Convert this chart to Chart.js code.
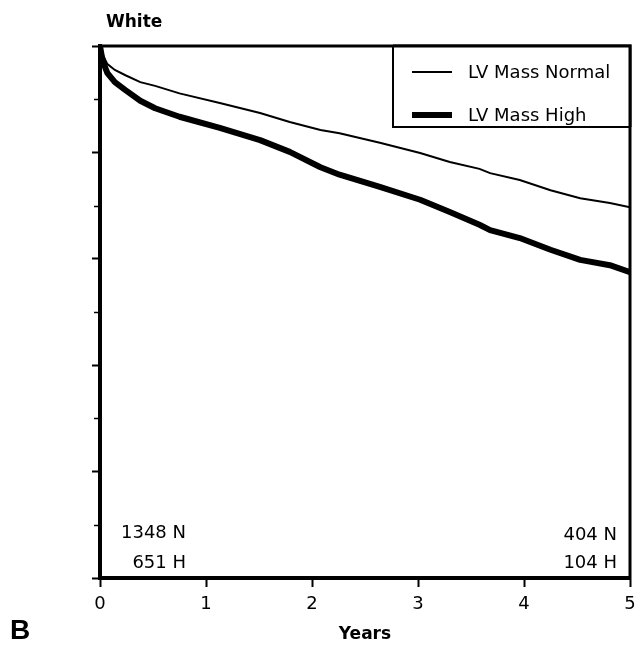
<!DOCTYPE html>
<html>
<head>
<meta charset="utf-8">
<script src="https://cdn.jsdelivr.net/npm/chart.js@4.4.1/dist/chart.umd.min.js"></script>
<style>
  html, body { margin: 0; padding: 0; background: #fff; }
  #wrap { width: 635px; height: 645px; position: relative; }
</style>
</head>
<body>
<div id="wrap"><canvas id="c" width="635" height="645"></canvas></div>
<script>
// ---- data ----
const timeYears = [0, 0.02, 0.05, 0.07, 0.14, 0.24, 0.38, 0.52, 0.75, 1.13, 1.51, 1.79, 2.08, 2.26, 2.64, 3.02, 3.30, 3.58, 3.68, 3.96, 4.25, 4.53, 4.81, 5.0];
const survNormal = [1.000, 0.987, 0.974, 0.966, 0.955, 0.945, 0.932, 0.925, 0.911, 0.893, 0.874, 0.857, 0.842, 0.836, 0.818, 0.799, 0.782, 0.769, 0.761, 0.748, 0.729, 0.714, 0.705, 0.697];
const survHigh   = [1.000, 0.977, 0.959, 0.949, 0.932, 0.917, 0.897, 0.883, 0.867, 0.846, 0.823, 0.801, 0.772, 0.758, 0.735, 0.711, 0.688, 0.664, 0.654, 0.639, 0.617, 0.598, 0.588, 0.575];
const seriesNames = ['LV Mass Normal', 'LV Mass High'];
const xTicks = [0, 1, 2, 3, 4, 5];
const yMajorTicks = [0, 0.2, 0.4, 0.6, 0.8, 1.0];
const yMinorTicks = [0.1, 0.3, 0.5, 0.7, 0.9];
const atRiskStart = ['1348 N', '651 H'];
const atRiskEnd = ['404 N', '104 H'];
const panelTitle = 'White';
const panelLetter = 'B';
const xTitle = 'Years';

const FONT = '"DejaVu Sans", sans-serif';

const toPoints = (ys) => timeYears.map((t, i) => ({x: t, y: ys[i]}));

const decor = {
  id: 'decor',
  afterDraw(chart) {
    const ctx = chart.ctx;
    const a = chart.chartArea;
    const ys = chart.scales.y;
    ctx.save();
    // frame top & right
    ctx.strokeStyle = '#000';
    ctx.lineWidth = 3;
    ctx.beginPath();
    ctx.moveTo(a.left - 2, a.top);
    ctx.lineTo(a.right, a.top);
    ctx.lineTo(a.right, a.bottom + 2);
    ctx.stroke();
    // minor y ticks
    ctx.lineWidth = 1.5;
    yMinorTicks.forEach(v => {
      const py = Math.round(ys.getPixelForValue(v)) + 0.5;
      ctx.beginPath();
      ctx.moveTo(a.left - 6, py);
      ctx.lineTo(a.left, py);
      ctx.stroke();
    });
    // legend box
    const bx = a.right - 237, by = a.top, bw = 237, bh = 81;
    ctx.fillStyle = '#fff';
    ctx.fillRect(bx, by, bw, bh);
    ctx.lineWidth = 2;
    ctx.strokeRect(bx, by, bw, bh);
    ctx.lineWidth = 3;
    ctx.beginPath(); ctx.moveTo(bx, by); ctx.lineTo(a.right, by); ctx.lineTo(a.right, by + bh); ctx.stroke();
    const rows = [by + 26, by + 69];
    chart.data.datasets.forEach((ds, i) => {
      ctx.lineWidth = ds.borderWidth;
      ctx.lineCap = 'butt';
      ctx.beginPath();
      ctx.moveTo(bx + 19, rows[i]);
      ctx.lineTo(bx + 59, rows[i]);
      ctx.stroke();
      ctx.fillStyle = '#000';
      ctx.font = '18px ' + FONT;
      ctx.textAlign = 'left';
      ctx.textBaseline = 'middle';
      ctx.fillText(ds.label, bx + 75, rows[i] + 1);
    });
    // at-risk numbers
    ctx.font = '18px ' + FONT;
    ctx.textAlign = 'right';
    ctx.textBaseline = 'middle';
    ctx.fillText(atRiskStart[0], a.left + 86, a.bottom - 45);
    ctx.fillText(atRiskStart[1], a.left + 86, a.bottom - 15);
    ctx.fillText(atRiskEnd[0], a.right - 13, a.bottom - 43);
    ctx.fillText(atRiskEnd[1], a.right - 13, a.bottom - 15);
    // panel title & letter
    ctx.textAlign = 'left';
    ctx.font = 'bold 17px ' + FONT;
    ctx.fillText(panelTitle, a.left + 6, 23);
    ctx.font = 'bold 28px "Liberation Sans", Arial, sans-serif';
    ctx.fillText(panelLetter, 10, 631);
    ctx.restore();
  }
};

new Chart(document.getElementById('c'), {
  type: 'line',
  data: {
    datasets: [
      { label: seriesNames[0], data: toPoints(survNormal), borderColor: '#000', borderWidth: 2, pointRadius: 0, tension: 0, fill: false },
      { label: seriesNames[1], data: toPoints(survHigh), borderColor: '#000', borderWidth: 6, pointRadius: 0, tension: 0, fill: false, borderJoinStyle: 'round' }
    ]
  },
  options: {
    responsive: false,
    animation: false,
    layout: { padding: { top: 46, right: 5, left: 0, bottom: 0 } },
    plugins: { legend: { display: false }, tooltip: { enabled: false }, title: { display: false } },
    scales: {
      x: {
        type: 'linear', min: 0, max: 5,
        afterBuildTicks: (s) => { s.ticks = xTicks.map(v => ({value: v})); },
        afterFit: (s) => { s.height = 67; s.paddingLeft = 0; s.paddingRight = 0; },
        ticks: { color: '#000', font: { family: FONT, size: 18 }, padding: 7, maxRotation: 0, autoSkip: false, callback: (v) => String(v) },
        grid: { drawOnChartArea: false, drawTicks: true, tickLength: 9, tickWidth: 2, tickColor: '#000' },
        border: { display: true, color: '#000', width: 4 },
        title: { display: true, text: xTitle, color: '#000', font: { family: FONT, size: 17, weight: 'bold' }, padding: { top: 0, bottom: 0 } }
      },
      y: {
        type: 'linear', min: 0, max: 1,
        afterBuildTicks: (s) => { s.ticks = yMajorTicks.map(v => ({value: v})); },
        afterFit: (s) => { s.width = 100; s.paddingTop = 0; s.paddingBottom = 0; },
        ticks: { display: false },
        grid: { drawOnChartArea: false, drawTicks: true, tickLength: 8, tickWidth: 2, tickColor: '#000' },
        border: { display: true, color: '#000', width: 4 }
      }
    }
  },
  plugins: [decor]
});
</script>
</body>
</html>
